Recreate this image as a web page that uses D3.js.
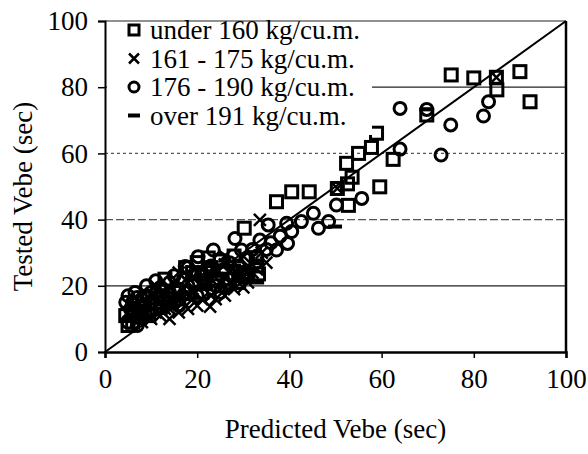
<!DOCTYPE html>
<html>
<head>
<meta charset="utf-8">
<script src="https://cdn.jsdelivr.net/npm/d3@7"></script>
<style>
  body { margin: 0; background: #fff; }
  svg text { font-family: "Liberation Serif", "Times New Roman", serif; fill: #000; }
</style>
</head>
<body>
<div id="graph"></div>
<script>
// tick labels
const xTicks = [0, 20, 40, 60, 80, 100];
const yTicks = [0, 20, 40, 60, 80, 100];
const seriesNames = ["under 160 kg/cu.m.", "161 - 175 kg/cu.m.", "176 - 190 kg/cu.m.", "over 191 kg/cu.m."];

// [predicted, tested] per series
const under160 = [
  [75.1, 83.7], [80.0, 82.8], [84.9, 83.0], [90.0, 84.7], [85.0, 79.2], [92.2, 75.6],
  [69.8, 71.6], [58.9, 66.1], [57.8, 61.8], [55.0, 60.0], [52.4, 57.0], [62.5, 58.2],
  [53.6, 52.8], [52.6, 50.8], [37.2, 45.4], [40.5, 48.4], [44.3, 48.4], [50.4, 49.4],
  [52.8, 44.3], [59.6, 49.9], [30.2, 37.4], [32.9, 26.0], [33.3, 23.6], [32.8, 28.5],
  [22.4, 28.4], [17.5, 25.5], [20.0, 27.0], [13.0, 22.0], [25.0, 27.5], [28.0, 29.0],
  [6.0, 9.0], [7.5, 10.5], [9.5, 11.0], [22.0, 24.0], [5.0, 8.0], [11.0, 15.0],
  [15.0, 18.0], [27.0, 22.0], [30.0, 24.0], [8, 12], [10, 13], [12, 13.5], [14, 16],
  [16, 16], [18, 18], [21, 18], [24, 22], [26, 20], [29, 21], [31, 23], [19, 24],
  [23, 25.5], [4.5, 11], [6, 12.5]
];
const r161to175 = [
  [33.6, 39.9], [50.4, 49.4], [84.9, 83.0], [8, 9], [10, 10], [12, 11], [14, 10],
  [16, 12], [18, 13], [20, 14], [22.8, 13.7], [24, 16], [26, 17], [28, 19], [30, 19.5],
  [11, 20], [13, 18], [15, 17], [17, 19], [19, 18], [21, 20], [23, 22], [25, 21],
  [27, 24], [29, 23], [31, 26], [16, 24], [12, 15], [9, 14], [7, 12], [20, 24],
  [24, 25], [34, 30], [35, 27], [19, 22.5], [26, 29], [14, 13], [6, 14],
  [5, 12], [7, 10], [9, 12], [11, 12], [13, 13], [15, 14], [17, 15], [19, 16],
  [21, 16], [23, 17], [25, 19], [27, 21], [29, 22], [31, 21], [33, 25], [18, 21],
  [22, 23.5], [10, 17], [14, 19.5], [26, 26.5], [30, 29], [32, 24]
];
const r176to190 = [
  [64.0, 73.6], [69.8, 73.3], [75.0, 68.6], [83.2, 75.6], [82.1, 71.3], [64.0, 61.3],
  [72.9, 59.5], [55.7, 46.4], [50.2, 44.4], [45.2, 41.9], [42.6, 39.4], [39.4, 38.9],
  [35.4, 38.4], [40.5, 36.4], [46.3, 37.4], [48.5, 39.4], [37.2, 30.8], [39.6, 32.8],
  [33.6, 33.8], [28.2, 34.3], [29.6, 30.8], [23.5, 30.8], [20.2, 28.8], [17.4, 25.8],
  [30, 22.7], [5, 17], [6, 15], [5.5, 13], [7, 16.5], [9, 17], [8, 14], [10, 18],
  [12, 19.5], [14, 21], [6, 11], [11, 13], [15, 15], [18, 20], [22, 22], [26, 25],
  [31, 28], [20, 17], [13, 16], [17, 22], [24, 20], [28, 23], [32, 31], [5, 9],
  [7, 8], [36, 33], [38, 35], [9, 20], [16, 14], [25, 18],
  [4.5, 15], [6.5, 18], [8, 16], [10, 15], [12, 17], [14, 18], [16, 19], [19, 21],
  [21, 24], [23, 26], [25, 28], [27, 27], [29, 26], [33, 29], [35, 31], [11, 21.5],
  [15, 23], [18, 25.5]
];
const over191 = [
  [49.9, 37.9], [69.8, 73.3], [15, 20], [10, 16], [20, 22], [25, 23], [30, 25],
  [18, 16], [12, 12], [27, 19], [6, 10], [22, 19], [8, 11.5], [33, 21],
  [9, 10], [14, 14.5], [17, 17.5], [23, 20], [28, 26], [31, 23.5], [20, 19], [11, 18]
];

const width = 588;
const height = 454;
const margin = { left: 105, right: 22, top: 21, bottom: 102 };
const markerSize = 12;

let svg = d3.select('#graph')
  .append('svg')
  .attr('width', width)
  .attr('height', height);

let xScale = d3.scaleLinear()
  .domain([0, 100])
  .range([margin.left, width - margin.right]);

let yScale = d3.scaleLinear()
  .domain([0, 100])
  .range([height - margin.bottom, margin.top]);

// gridlines (40 and 60 come out broken in the print)
svg.append('g')
  .selectAll('line')
  .data(yTicks.slice(1))
  .enter()
  .append('line')
  .attr('x1', xScale(0))
  .attr('x2', xScale(100))
  .attr('y1', d => yScale(d))
  .attr('y2', d => yScale(d))
  .attr('stroke', d => (d === 40 || d === 60) ? '#555' : '#222')
  .attr('stroke-dasharray', d => d === 60 ? '3,3' : (d === 40 ? '8,3' : null))
  .attr('stroke-width', 1.2);

// right border
svg.append('line')
  .attr('x1', xScale(100)).attr('x2', xScale(100))
  .attr('y1', yScale(0)).attr('y2', yScale(100))
  .attr('stroke', '#000')
  .attr('stroke-width', 2.5);

// axes
let xAxis = d3.axisBottom(xScale)
  .tickValues(xTicks)
  .tickSize(6)
  .tickPadding(11);
let yAxis = d3.axisLeft(yScale)
  .tickValues(yTicks)
  .tickSize(7)
  .tickPadding(10);

let gx = svg.append('g')
  .attr('transform', `translate(0, ${yScale(0)})`)
  .call(xAxis);
gx.select('.domain').attr('stroke-width', 2.5);
let gy = svg.append('g')
  .attr('transform', `translate(${xScale(0)}, 0)`)
  .call(yAxis);
gy.select('.domain').attr('stroke-width', 2);

svg.selectAll('.tick text')
  .style('font-size', '27px')
  .style('font-family', '"Liberation Serif", serif');
svg.selectAll('.tick line').attr('stroke-width', 1.5);

// axis titles
svg.append('text')
  .attr('text-anchor', 'middle')
  .attr('x', (xScale(0) + xScale(100)) / 2)
  .attr('y', 438)
  .style('font-size', '27px')
  .text('Predicted Vebe (sec)');
svg.append('text')
  .attr('text-anchor', 'middle')
  .attr('transform', `translate(32, ${(yScale(0) + yScale(100)) / 2 + 10}) rotate(-90)`)
  .style('font-size', '27px')
  .text('Tested Vebe (sec)');

// 1:1 line
svg.append('line')
  .attr('x1', xScale(0)).attr('y1', yScale(0))
  .attr('x2', xScale(100)).attr('y2', yScale(100))
  .attr('stroke', '#000')
  .attr('stroke-width', 2);

// markers
function drawSquare(g, s) {
  g.append('rect')
    .attr('x', -s / 2).attr('y', -s / 2)
    .attr('width', s).attr('height', s)
    .attr('fill', 'none').attr('stroke', '#000').attr('stroke-width', 3);
}
function drawCross(g, s) {
  let h = s / 2;
  g.append('path')
    .attr('d', `M${-h},${-h}L${h},${h}M${-h},${h}L${h},${-h}`)
    .attr('stroke', '#000').attr('stroke-width', 2.5);
}
function drawCircle(g, s) {
  g.append('circle')
    .attr('r', s / 2)
    .attr('fill', 'none').attr('stroke', '#000').attr('stroke-width', 3);
}
function drawDash(g, s) {
  g.append('line')
    .attr('x1', -s / 2 - 1).attr('x2', s / 2 + 1)
    .attr('stroke', '#000').attr('stroke-width', 4);
}

const series = [
  { data: under160, draw: drawSquare },
  { data: r161to175, draw: drawCross },
  { data: r176to190, draw: drawCircle },
  { data: over191, draw: drawDash }
];

let points = svg.append('g').attr('class', 'points');
series.forEach(s => {
  points.selectAll(null)
    .data(s.data)
    .enter()
    .append('g')
    .attr('transform', d => `translate(${xScale(d[0])}, ${yScale(d[1])})`)
    .each(function() { s.draw(d3.select(this), markerSize); });
});

// legend
let legend = svg.append('g').attr('class', 'legend');
legend.append('rect')
  .attr('x', xScale(0) + 2)
  .attr('y', yScale(100) + 2)
  .attr('width', 265)
  .attr('height', 112)
  .attr('fill', '#fff');
series.forEach((s, i) => {
  let row = legend.append('g')
    .attr('transform', `translate(134, ${30 + i * 28.5})`);
  s.draw(row, 10);
  row.append('text')
    .attr('x', 16)
    .attr('y', 9)
    .style('font-size', '27px')
    .text(seriesNames[i]);
});
</script>
</body>
</html>
